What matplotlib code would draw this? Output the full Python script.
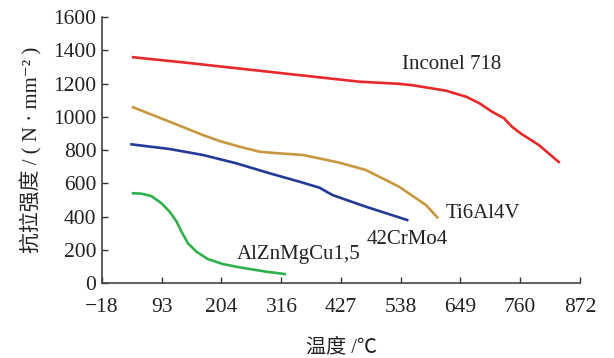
import matplotlib
matplotlib.use('Agg')
import matplotlib.pyplot as plt

plt.rcParams['font.family'] = ['Liberation Serif', 'Noto Sans CJK SC', 'DejaVu Sans']

# temperature (°C) and tensile strength (N/mm2)
inconel_t = [40, 139, 263, 387, 461, 535, 559, 622, 660, 684, 708, 730, 745, 761, 795, 832]
inconel_s = [1358, 1325, 1281, 1237, 1211, 1198, 1190, 1157, 1120, 1082, 1030, 991, 940, 900, 830, 728]

ti_t = [40, 108, 170, 201, 238, 275, 294, 356, 421, 473, 535, 585, 606]
ti_s = [1057, 970, 890, 854, 820, 790, 784, 770, 726, 680, 579, 469, 395]

crmo_t = [37, 108, 170, 232, 294, 350, 387, 411, 473, 550]
crmo_s = [834, 806, 770, 720, 660, 609, 573, 529, 459, 379]

al_t = [40, 56, 74, 93, 108, 121, 130, 142, 158, 179, 207, 238, 288, 322]
al_s = [540, 537, 523, 479, 429, 369, 309, 239, 188, 144, 114, 94, 68, 54]

xticks = [-18, 93, 204, 316, 427, 538, 649, 760, 872]
yticks = [0, 200, 400, 600, 800, 1000, 1200, 1400, 1600]

fig = plt.figure(figsize=(6.14, 3.58), dpi=100)
ax = fig.add_axes([0.166, 0.2095, 0.779, 0.743])

ax.plot(inconel_t, inconel_s, color='#e8282b', lw=1.9)
ax.plot(ti_t, ti_s, color='#c9973f', lw=1.9)
ax.plot(crmo_t, crmo_s, color='#233a98', lw=1.9)
ax.plot(al_t, al_s, color='#30b04c', lw=1.9)

ax.text(541, 1317, 'Inconel 718', fontsize=15, va='center', color='#222222')
ax.text(622, 421, 'Ti6Al4V', fontsize=15, va='center', color='#222222')
ax.text(474, 259, '42CrMo4', fontsize=15, va='center', color='#222222')
ax.text(233, 174, 'AlZnMgCu1,5', fontsize=15, va='center', color='#222222')

ax.set_xlim(-18, 872)
ax.set_ylim(0, 1600)
ax.set_xticks(xticks)
ax.set_xticklabels(['\u221218'] + [str(v) for v in xticks[1:]])
ax.set_yticks(yticks)
ax.tick_params(direction='in', length=4, width=1, colors='#333333', labelsize=15.5,
               labelcolor='#222222')
ax.tick_params(axis='x', pad=11)
ax.tick_params(axis='y', pad=4)
for side in ['top', 'right']:
    ax.spines[side].set_visible(False)
for side in ['left', 'bottom']:
    ax.spines[side].set_color('#444444')
    ax.spines[side].set_linewidth(1.2)

ax.set_xlabel('温度 /℃', fontsize=14.5, color='#222222', labelpad=15)
ax.set_ylabel('抗拉强度 / ( N · mm\u207b\u00b2 )', fontsize=15, color='#222222', labelpad=8)

fig.savefig('out.png', dpi=100)
